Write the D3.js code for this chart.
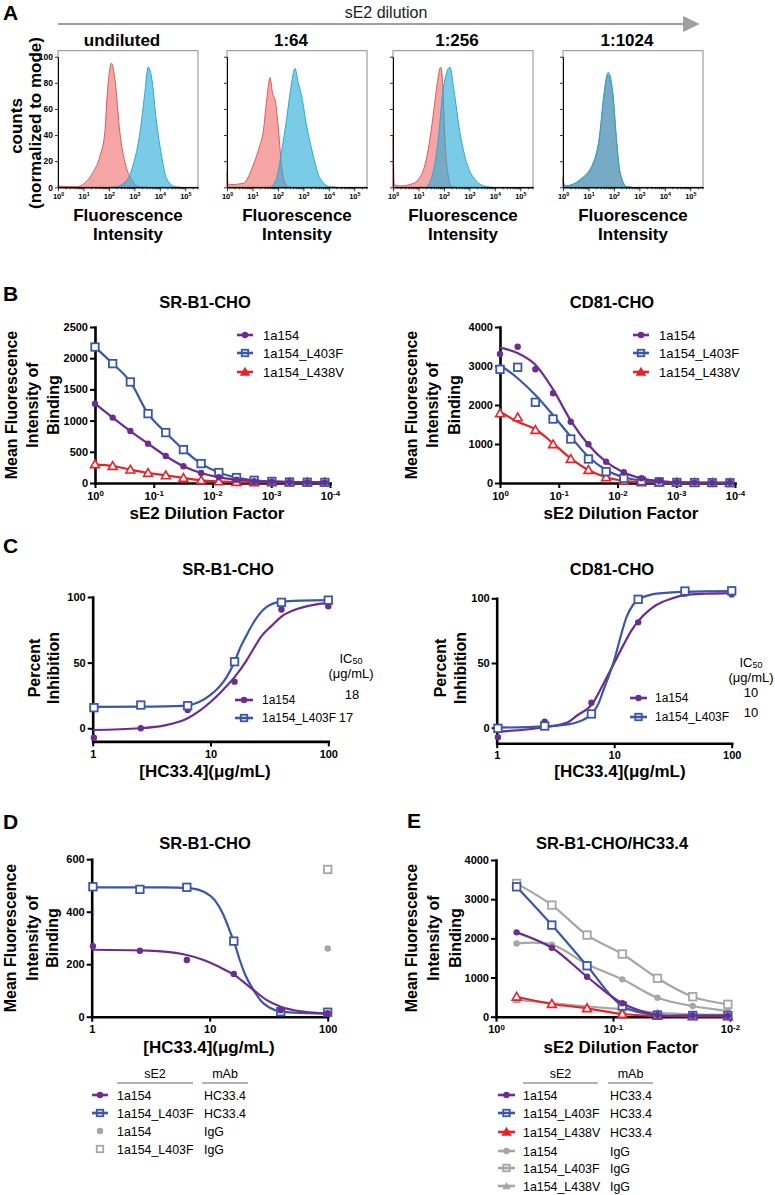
<!DOCTYPE html>
<html><head><meta charset="utf-8">
<script src="https://cdn.jsdelivr.net/npm/d3@7"></script>
<style>body{margin:0;background:#fff;} svg{display:block;}</style>
</head><body>
<script>
// ---------------- DATA ----------------
// Panel A: histograms, [log10 fluorescence, % of mode]
const histTitles = ["undiluted", "1:64", "1:256", "1:1024"];
const redUndiluted = [[0,1],[0.5,0.5],[0.73,0.5],[1.39,12],[1.65,24],[1.84,42],[1.93,70],[2.1,95],[2.24,82],[2.43,42],[2.63,19],[2.89,6],[3.2,0.5],[3.5,0]];
const blueUndiluted = [[2.0,0],[2.3,0.5],[2.76,7],[2.95,17],[3.22,42],[3.41,72],[3.54,92],[3.67,85],[3.87,50],[4.07,24],[4.26,7],[4.59,0.5],[4.8,0]];
const red64 = [[0,12],[0.05,2],[0.64,3],[1.03,17],[1.29,32],[1.42,42],[1.56,67],[1.69,84],[1.79,72],[1.9,66],[2.01,47],[2.14,17],[2.31,2],[2.5,0]];
const blue64 = [[1.7,0],[1.95,7],[2.14,27],[2.34,52],[2.5,75],[2.67,91],[2.8,80],[2.93,70],[3.13,47],[3.39,24],[3.65,7],[4.04,0.5],[4.3,0]];
const red256 = [[0,40],[0.05,2],[0.27,1],[0.8,3],[1.19,13],[1.45,37],[1.61,60],[1.74,80],[1.87,92],[1.95,80],[2.04,37],[2.17,9],[2.3,0.5],[2.5,0]];
const blue256 = [[1.3,0],[1.58,12],[1.78,37],[1.97,75],[2.24,92],[2.39,75],[2.63,42],[2.89,19],[3.22,6],[3.67,0.5],[3.9,0]];
const red1024 = [[0,8],[0.05,1],[0.67,5],[1.19,18],[1.45,40],[1.58,64],[1.76,86],[1.95,72],[2.1,36],[2.24,11],[2.5,0.5],[2.7,0]];
const blue1024 = [[0,6],[0.08,1],[0.67,6],[1.19,19],[1.45,42],[1.58,67],[1.78,88],[1.97,70],[2.1,37],[2.24,12],[2.5,0.5],[2.7,0]];
const histRed = [redUndiluted, red64, red256, red1024];
const histBlue = [blueUndiluted, blue64, blue256, blue1024];
const histXTicks = [0,1,2,3,4,5];
const histYTicks = [0,20,40,60,80,100];

// Panel B: dilution series
const bX = [1, 0.5, 0.25, 0.125, 0.0625, 0.03125, 0.015625, 0.0078125, 0.00390625, 0.001953125, 0.0009765625, 0.00048828125, 0.000244140625, 0.0001220703125];
const b1_1a154 = [1272, 1048, 833, 631, 433, 268, 160, 91, 54, 30, 20, 15, 12, 10];
const b1_L403F = [2179, 1913, 1619, 1112, 808, 535, 311, 167, 87, 43, 25, 15, 12, 10];
const b1_L438V = [300, 272, 215, 160, 123, 80, 43, 25, 15, 10, 10, 10, 10, 10];
const b2_1a154 = [3308, 3495, 2915, 2300, 1572, 992, 546, 274, 120, 50, 20, 10, 8, 5];
const b2_L403F = [2915, 2967, 2069, 1640, 1128, 615, 290, 120, 50, 30, 15, 10, 8, 5];
const b2_L438V = [1787, 1684, 1359, 992, 615, 333, 146, 59, 20, 10, 8, 5, 5, 5];
const b2fit_1a154 = [3470, 3330, 3030, 2400, 1600, 980, 540, 270, 120, 50, 20, 10, 6, 5];
const b2fit_L403F = [3026, 2685, 2256, 1740, 1187, 674, 333, 146, 60, 25, 12, 8, 5, 5];
const b2fit_L438V = [1828, 1572, 1377, 1018, 633, 333, 146, 55, 20, 10, 6, 5, 5, 5];
const bXTicks = [1, 0.1, 0.01, 0.001, 0.0001];

// Panel C: percent inhibition
const cX = [1.024, 2.56, 6.4, 16, 40, 100];
const c1_1a154 = [-7.2, 0, 13.9, 35.5, 90.5, 93];
const c1_L403F = [15.7, 17.7, 17.2, 50.7, 95.9, 97.6];
const c2_1a154 = [-7.4, 4.6, 19.3, 81.4, 103.6, 103];
const c2_L403F = [-0.5, 1.3, 10.6, 99.2, 105.6, 105.8];
const c1fit_1a154 = [[1,-1.3],[2.5,0],[4,2],[6.4,7.6],[8,13],[10,20],[13,30],[16,39],[20,51],[23,60],[27,70],[33,78],[40,85],[55,91],[75,94],[100,95.5]];
const c1fit_L403F = [[1,16.3],[3,16.5],[5,16.8],[6.4,17.5],[8,20],[10,25.4],[12,32],[13.7,39],[16,50.7],[18,62],[20,70],[23,80],[26,87],[30,92.5],[40,96.5],[60,97.3],[100,97.6]];
const c2fit_1a154 = [[1,-3],[2.56,0.3],[4,4],[4.9,9.8],[6.4,17.5],[8.1,34],[10,50],[12,64],[14,75],[16,82.4],[20,91],[23,95],[30,99.5],[40,102.5],[60,103.5],[100,104]];
const c2fit_L403F = [[1,0],[2.56,1],[4,2.5],[4.9,4.4],[6.4,10.6],[7.3,18],[8.1,29],[9,40],[10,52],[11,66],[12.8,86],[14.5,95],[16,99],[20,102.5],[23,103.6],[40,105],[100,105.5]];
const c1IC50 = ["18", "17"];
const c2IC50 = ["10", "10"];

// Panel D
const dX = [1.024, 2.56, 6.4, 16, 40, 100];
const d_1a154 = [269, 251, 216, 163, 25, 13];
const d_L403F = [495, 485, 493, 288, 19, 17];
const d_IgG_1a154 = [[100, 260]];
const d_IgG_L403F = [[100, 561]];
const dfit_1a154 = [[1,255],[3,252],[6,238],[9,215],[12,190],[16,160],[20,127],[23.5,102],[30,65],[40,38],[60,20],[100,12]];
const dfit_L403F = [[1,493],[4,493],[7,489],[9,475],[11,445],[13,390],[15,320],[16.5,270],[18,215],[20,160],[23.5,102],[27,62],[32,35],[40,20],[60,14],[100,12]];

// Panel E
const eX = [0.6667, 0.3333, 0.1667, 0.0833, 0.04167, 0.02083, 0.01042];
const e_1a154 = [2153, 1760, 1020, 342, 43, 30, 25];
const e_L403F = [3316, 2339, 1301, 273, 43, 30, 30];
const e_L438V = [510, 324, 214, 69, 20, 10, 10];
const e_IgG_1a154 = [1870, 1840, 1337, 954, 485, 272, 145];
const e_IgG_L403F = [3403, 2849, 2084, 1600, 980, 510, 316];
const e_IgG_L438V = [430, 350, 260, 190, 100, 60, 50];

// ---------------- DRAWING ----------------
const FONT = "'Liberation Sans', Arial, Helvetica, sans-serif";
const PURPLE = "#6b2d8f", BLUE = "#3a57a7", RED = "#e52329", GREY = "#a6a6a6";
const svg = d3.select("body").append("svg").attr("width", 775).attr("height", 1195)
  .style("font-family", FONT);

function txt(x, y, s, o = {}) {
  return svg.append("text").attr("x", x).attr("y", y).text(s)
    .attr("font-size", o.size || 13).attr("font-weight", o.bold ? "bold" : "normal")
    .attr("text-anchor", o.anchor || "start").attr("fill", o.fill || "#000");
}
function vtxt(cx, cy, s, size) {
  svg.append("text").attr("transform", `translate(${cx},${cy}) rotate(-90)`)
    .attr("text-anchor", "middle").attr("dy", "0.36em").attr("font-size", size)
    .attr("font-weight", "bold").text(s);
}
function zip(xs, ys) { return xs.map((v, i) => [v, ys[i]]); }

// ---- Panel A ----
txt(3, 20, "A", { size: 21, bold: true });
const aLefts = [58, 227, 393, 563], aW = 140, aTop = 50.7, aBottom = 187.3;
svg.append("line").attr("x1", 58).attr("x2", 686).attr("y1", 24).attr("y2", 24)
  .attr("stroke", "#a0a0a0").attr("stroke-width", 2);
svg.append("path").attr("d", "M683,16 L700,24 L683,32 Z").attr("fill", "#a0a0a0");
txt(386, 18, "sE2 dilution", { size: 16, anchor: "middle", fill: "#222" });
vtxt(16, 126, "counts", 17);
vtxt(35, 123, "(normalized to mode)", 17);

histTitles.forEach((title, i) => {
  const x0 = aLefts[i];
  const x = d3.scaleLinear().domain([0, 5.5]).range([x0, x0 + aW]);
  const y = d3.scaleLinear().domain([0, 100]).range([aBottom, 56.7]);
  const g = svg.append("g");
  g.append("rect").attr("x", x0).attr("y", aTop).attr("width", aW).attr("height", aBottom - aTop)
    .attr("fill", "none").attr("stroke", "#8c8c8c").attr("stroke-width", 1);
  const area = d3.area().x(d => x(d[0])).y0(y(0)).y1(d => y(d[1])).curve(d3.curveMonotoneX);
  g.append("path").datum(histRed[i]).attr("d", area)
    .attr("fill", "rgb(240,105,105)").attr("fill-opacity", 0.6)
    .attr("stroke", "#dd5a5a").attr("stroke-width", 1);
  g.append("path").datum(histBlue[i]).attr("d", area)
    .attr("fill", "rgb(40,172,215)").attr("fill-opacity", 0.62)
    .attr("stroke", "#2aa8d4").attr("stroke-width", 1);
  const minor = [];
  for (let dd = 0; dd < 5.5; dd++) for (let k = 2; k <= 9; k++) { const v = dd + Math.log10(k); if (v < 5.5) minor.push(v); }
  const gm = g.append("g").attr("transform", `translate(0,${aBottom})`)
    .call(d3.axisBottom(x).tickValues(minor).tickSize(2).tickSizeOuter(0).tickFormat(() => ""));
  const gx = g.append("g").attr("transform", `translate(0,${aBottom})`)
    .call(d3.axisBottom(x).tickValues(histXTicks).tickSize(4).tickSizeOuter(0).tickPadding(2).tickFormat(() => ""));
  gx.selectAll(".tick text").each(function (d) {
    const t = d3.select(this); t.text("10");
    t.append("tspan").attr("dy", "-0.45em").attr("font-size", "0.7em").text(d);
  });
  const gy = g.append("g").attr("transform", `translate(${x0},0)`)
    .call(d3.axisLeft(y).tickValues(histYTicks).tickSize(3).tickSizeOuter(0).tickPadding(2)
      .tickFormat(i === 0 ? d3.format("d") : () => ""));
  [gm, gx, gy].forEach(a => {
    a.select(".domain").attr("stroke", "#000").attr("stroke-width", 1);
    a.selectAll(".tick line").attr("stroke", "#000").attr("stroke-width", 0.8);
    a.selectAll(".tick text").attr("font-size", 7.5).attr("font-weight", "bold").attr("font-family", FONT).attr("fill", "#000");
  });
  gy.selectAll(".tick text").attr("font-size", 8.5);
  txt(x0 + aW / 2 - 6, 46, title, { size: 17, bold: true, anchor: "middle" });
  txt(x0 + aW / 2, 221, "Fluorescence", { size: 17, bold: true, anchor: "middle" });
  txt(x0 + aW / 2, 240, "Intensity", { size: 17, bold: true, anchor: "middle" });
});

// ---- generic plot ----
function drawPlot(c) {
  const x = d3.scaleLog().domain(c.xDomain).range(c.xRange);
  const y = d3.scaleLinear().domain(c.yDomain).range(c.yRange);
  const g = svg.append("g");
  const xa = d3.axisBottom(x).tickValues(c.xTicks).tickSize(5).tickSizeOuter(0).tickPadding(c.xPad || 4);
  xa.tickFormat(c.pow ? () => "" : d3.format("d"));
  const gx = g.append("g").attr("transform", `translate(0,${y(c.yDomain[0])})`).call(xa);
  if (c.pow) gx.selectAll(".tick text").each(function (d) {
    const t = d3.select(this); t.text("10");
    t.append("tspan").attr("dy", "-0.45em").attr("font-size", "0.72em").text(Math.round(Math.log10(d)));
  });
  const ya = d3.axisLeft(y).tickValues(c.yTicks).tickSize(5).tickSizeOuter(0).tickPadding(2).tickFormat(d3.format("d"));
  const gy = g.append("g").attr("transform", `translate(${c.xRange[0]},0)`).call(ya);
  [gx, gy].forEach(a => {
    a.select(".domain").attr("stroke", "#000").attr("stroke-width", 2.6).attr("stroke-linecap", "square");
    a.selectAll(".tick line").attr("stroke", "#000").attr("stroke-width", 2);
    a.selectAll(".tick text").attr("font-size", 11).attr("font-weight", "bold").attr("font-family", FONT).attr("fill", "#000");
  });
  if (c.title) txt(c.title[1], c.title[2], c.title[0], { size: 16.5, bold: true, anchor: "middle" });
  if (c.xTitle) txt(c.xTitle[1], c.xTitle[2], c.xTitle[0], { size: 17, bold: true, anchor: "middle" });
  c.yLabels.forEach((s, i) => vtxt(c.yLabelX[i], c.yLabelY, s, 16));
  return { g, x, y };
}

function marker(g, type, cx, cy, color, legend) {
  if (type === "circle") {
    g.append("circle").attr("cx", cx).attr("cy", cy).attr("r", 3.2).attr("fill", color);
  } else if (type === "square") {
    const s = legend ? 6.5 : 7.5;
    g.append("rect").attr("x", cx - s / 2).attr("y", cy - s / 2).attr("width", s).attr("height", s)
      .attr("fill", legend ? "none" : "#fff").attr("stroke", color).attr("stroke-width", 1.8);
  } else if (type === "triangle") {
    g.append("path").attr("d", d3.symbol(d3.symbolTriangle, legend ? 26 : 34)()).attr("transform", `translate(${cx},${cy + 0.8})`)
      .attr("fill", legend ? color : "#fff").attr("stroke", color).attr("stroke-width", 1.6);
  } else if (type === "triangleFill") {
    g.append("path").attr("d", d3.symbol(d3.symbolTriangle, legend ? 30 : 36)()).attr("transform", `translate(${cx},${cy + 0.8})`)
      .attr("fill", color);
  }
}

function series(p, pts, o) {
  const line = d3.line().x(d => p.x(d[0])).y(d => p.y(d[1])).curve(o.curve || d3.curveMonotoneX);
  if (o.fit !== null) {
    p.g.append("path").datum(o.fit || pts).attr("d", line).attr("fill", "none")
      .attr("stroke", o.color).attr("stroke-width", 2.2);
  }
  pts.forEach(d => marker(p.g, o.marker, p.x(d[0]), p.y(d[1]), o.color, false));
}

function legendRow(x1, x2, cy, type, color, withLine) {
  const g = svg.append("g");
  if (withLine) g.append("line").attr("x1", x1).attr("x2", x2).attr("y1", cy).attr("y2", cy)
    .attr("stroke", color).attr("stroke-width", 2.6);
  marker(g, type, (x1 + x2) / 2, cy, color, true);
}

// ---- Panel B ----
txt(3, 301, "B", { size: 21, bold: true });
const pB1 = drawPlot({
  xDomain: [1, 0.0001], xRange: [95, 330], yDomain: [0, 2500], yRange: [483, 327],
  xTicks: bXTicks, yTicks: [0, 500, 1000, 1500, 2000, 2500], pow: true,
  title: ["SR-B1-CHO", 205, 308], xTitle: ["sE2 Dilution Factor", 207, 519],
  yLabels: ["Mean Fluorescence", "Intensity of", "Binding"], yLabelX: [11, 32, 53], yLabelY: 405
});
series(pB1, zip(bX, b1_L438V), { color: RED, marker: "triangle" });
series(pB1, zip(bX, b1_L403F), { color: BLUE, marker: "square" });
series(pB1, zip(bX, b1_1a154), { color: PURPLE, marker: "circle" });
const bLegend = [["1a154", PURPLE, "circle"], ["1a154_L403F", BLUE, "square"], ["1a154_L438V", RED, "triangle"]];
bLegend.forEach((r, i) => {
  const cy = [335, 353, 372][i];
  legendRow(237, 253, cy, r[2], r[1], true);
  txt(263, cy + 4.6, r[0], { size: 13 });
});

const pB2 = drawPlot({
  xDomain: [1, 0.0001], xRange: [500, 735], yDomain: [0, 4000], yRange: [483, 327],
  xTicks: bXTicks, yTicks: [0, 1000, 2000, 3000, 4000], pow: true,
  title: ["CD81-CHO", 612, 308], xTitle: ["sE2 Dilution Factor", 621, 519],
  yLabels: ["Mean Fluorescence", "Intensity of", "Binding"], yLabelX: [411, 432, 454], yLabelY: 405
});
series(pB2, zip(bX, b2_L438V), { color: RED, marker: "triangle", fit: zip(bX, b2fit_L438V) });
series(pB2, zip(bX, b2_L403F), { color: BLUE, marker: "square", fit: zip(bX, b2fit_L403F) });
series(pB2, zip(bX, b2_1a154), { color: PURPLE, marker: "circle", fit: zip(bX, b2fit_1a154) });
bLegend.forEach((r, i) => {
  const cy = [335, 353, 372][i];
  legendRow(633, 649, cy, r[2], r[1], true);
  txt(659, cy + 4.6, r[0], { size: 13 });
});

// ---- Panel C ----
txt(3, 553, "C", { size: 21, bold: true });
const pC1 = drawPlot({
  xDomain: [1, 100], xRange: [92.7, 328.3], yDomain: [-10, 100], yRange: [741.4, 597],
  xTicks: [1, 10, 100], yTicks: [0, 50, 100], pow: false,
  title: ["SR-B1-CHO", 228, 575], xTitle: ["[HC33.4](μg/mL)", 205, 777],
  yLabels: ["Percent", "Inhibition"], yLabelX: [34, 53], yLabelY: 668
});
series(pC1, zip(cX, c1_1a154), { color: PURPLE, marker: "circle", fit: c1fit_1a154 });
series(pC1, zip(cX, c1_L403F), { color: BLUE, marker: "square", fit: c1fit_L403F });
const cLegend = [["1a154", PURPLE, "circle"], ["1a154_L403F", BLUE, "square"]];
cLegend.forEach((r, i) => {
  const cy = [700, 718][i];
  legendRow(235, 253, cy, r[2], r[1], true);
  txt(262, cy + 4.4, r[0], { size: 12 });
});
function ic50Block(cx, y1, y2, vals, vx, vys) {
  const t = txt(cx, y1, "IC", { size: 13, anchor: "middle" });
  t.append("tspan").attr("font-size", 9).attr("dy", 1).text("50");
  txt(cx, y2, "(μg/mL)", { size: 13, anchor: "middle" });
  vals.forEach((v, i) => txt(vx[i], vys[i], v, { size: 13, anchor: "middle" }));
}
ic50Block(351, 663, 678, c1IC50, [352, 346], [699, 722]);

const pC2 = drawPlot({
  xDomain: [1, 100], xRange: [496.7, 731.7], yDomain: [-12, 100], yRange: [743.2, 598.3],
  xTicks: [1, 10, 100], yTicks: [0, 50, 100], pow: false, xPad: 3,
  title: ["CD81-CHO", 612, 575], xTitle: ["[HC33.4](μg/mL)", 620, 777],
  yLabels: ["Percent", "Inhibition"], yLabelX: [440, 460], yLabelY: 668
});
series(pC2, zip(cX, c2_1a154), { color: PURPLE, marker: "circle", fit: c2fit_1a154 });
series(pC2, zip(cX, c2_L403F), { color: BLUE, marker: "square", fit: c2fit_L403F });
cLegend.forEach((r, i) => {
  const cy = [698, 717][i];
  legendRow(630, 647, cy, r[2], r[1], true);
  txt(655, cy + 4.4, r[0], { size: 12 });
});
ic50Block(751, 667, 682, c2IC50, [751, 751], [697, 717]);

// ---- Panel D ----
txt(3, 829, "D", { size: 21, bold: true });
const pD = drawPlot({
  xDomain: [1, 100], xRange: [91.7, 327.7], yDomain: [0, 600], yRange: [1016.7, 859.2],
  xTicks: [1, 10, 100], yTicks: [0, 200, 400, 600], pow: false,
  title: ["SR-B1-CHO", 205, 849], xTitle: ["[HC33.4](μg/mL)", 209, 1053],
  yLabels: ["Mean Fluorescence", "Intensity of", "Binding"], yLabelX: [10, 32, 52], yLabelY: 938
});
series(pD, zip(dX, d_L403F), { color: BLUE, marker: "square", fit: dfit_L403F });
series(pD, zip(dX, d_1a154), { color: PURPLE, marker: "circle", fit: dfit_1a154 });
series(pD, d_IgG_1a154, { color: GREY, marker: "circle", fit: null });
series(pD, d_IgG_L403F, { color: GREY, marker: "square", fit: null });

function tableLegend(hx1, hx2, mx1, mx2, sx1, sx2, tx, mtx, rows) {
  txt((hx1 + hx2) / 2, 1078, "sE2", { size: 12.5, anchor: "middle" });
  txt((mx1 + mx2) / 2, 1078, "mAb", { size: 12.5, anchor: "middle" });
  svg.append("line").attr("x1", hx1).attr("x2", hx2).attr("y1", 1083).attr("y2", 1083).attr("stroke", "#999").attr("stroke-width", 1.6);
  svg.append("line").attr("x1", mx1).attr("x2", mx2).attr("y1", 1083).attr("y2", 1083).attr("stroke", "#999").attr("stroke-width", 1.6);
  rows.forEach(r => {
    legendRow(sx1, sx2, r.cy, r.marker, r.color, r.line);
    txt(tx, r.cy + 4.5, r.sE2, { size: 12.4 });
    txt(mtx, r.cy + 4.5, r.mAb, { size: 12.4 });
  });
}
tableLegend(117, 193, 202, 248, 92, 108, 117, 204, [
  { cy: 1095, marker: "circle", color: PURPLE, line: true, sE2: "1a154", mAb: "HC33.4" },
  { cy: 1113, marker: "square", color: BLUE, line: true, sE2: "1a154_L403F", mAb: "HC33.4" },
  { cy: 1131, marker: "circle", color: GREY, line: false, sE2: "1a154", mAb: "IgG" },
  { cy: 1149, marker: "square", color: GREY, line: false, sE2: "1a154_L403F", mAb: "IgG" }
]);

// ---- Panel E ----
txt(407, 828, "E", { size: 21, bold: true });
const pE = drawPlot({
  xDomain: [1, 0.01], xRange: [496, 730], yDomain: [0, 4000], yRange: [1016.7, 860],
  xTicks: [1, 0.1, 0.01], yTicks: [0, 1000, 2000, 3000, 4000], pow: true,
  title: ["SR-B1-CHO/HC33.4", 612, 849], xTitle: ["sE2 Dilution Factor", 621, 1053],
  yLabels: ["Mean Fluorescence", "Intensity of", "Binding"], yLabelX: [411, 433, 455], yLabelY: 938
});
const smooth = d3.curveCatmullRom.alpha(0.5);
series(pE, zip(eX, e_IgG_L438V), { color: GREY, marker: "triangleFill", curve: smooth });
series(pE, zip(eX, e_IgG_1a154), { color: GREY, marker: "circle", curve: smooth });
series(pE, zip(eX, e_IgG_L403F), { color: GREY, marker: "square", curve: smooth });
series(pE, zip(eX, e_L438V), { color: RED, marker: "triangle", curve: smooth });
series(pE, zip(eX, e_L403F), { color: BLUE, marker: "square", curve: smooth });
series(pE, zip(eX, e_1a154), { color: PURPLE, marker: "circle", curve: smooth });
tableLegend(523, 598, 608, 653, 498, 515, 523, 610, [
  { cy: 1095, marker: "circle", color: PURPLE, line: true, sE2: "1a154", mAb: "HC33.4" },
  { cy: 1113, marker: "square", color: BLUE, line: true, sE2: "1a154_L403F", mAb: "HC33.4" },
  { cy: 1132, marker: "triangle", color: RED, line: true, sE2: "1a154_L438V", mAb: "HC33.4" },
  { cy: 1151, marker: "circle", color: GREY, line: true, sE2: "1a154", mAb: "IgG" },
  { cy: 1168, marker: "square", color: GREY, line: true, sE2: "1a154_L403F", mAb: "IgG" },
  { cy: 1186, marker: "triangleFill", color: GREY, line: true, sE2: "1a154_L438V", mAb: "IgG" }
]);
</script>
</body></html>
